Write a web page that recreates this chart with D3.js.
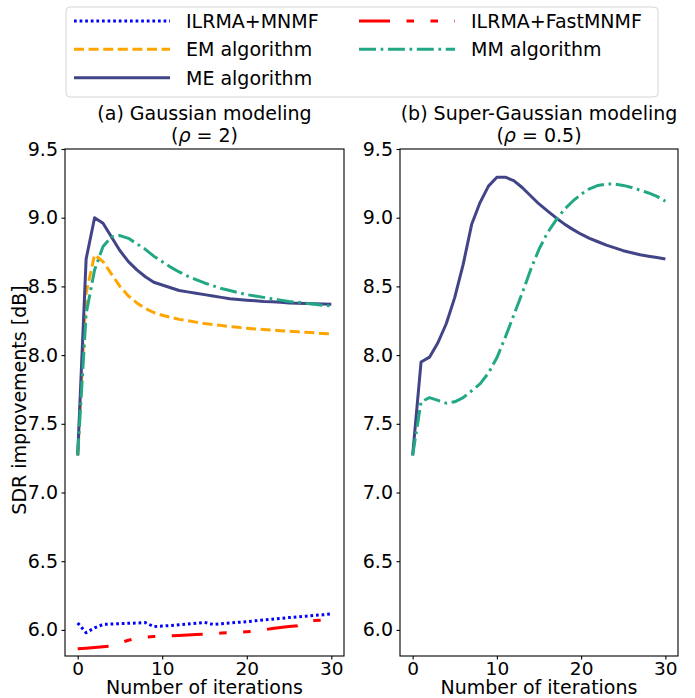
<!DOCTYPE html>
<html><head><meta charset="utf-8">
<script src="https://cdn.jsdelivr.net/npm/d3@7"></script>
<style>
body{margin:0;background:#fff}
text{font-family:"DejaVu Sans",sans-serif;fill:#000}
</style>
</head><body>
<svg id="c" width="695" height="698"></svg>
<script>
// ---------- data ----------
const iterations = [0,1,2,3,4,5,6,7,8,9,10,11,12,13,14,15,16,17,18,19,20,21,22,23,24,25,26,27,28,29,30];
const xTicks = [0,10,20,30];
const yTicks = [6.0,6.5,7.0,7.5,8.0,8.5,9.0,9.5];
const seriesNames = ["ILRMA+MNMF","EM algorithm","ME algorithm","ILRMA+FastMNMF","MM algorithm"];
const panelTitles = ["(a) Gaussian modeling","(b) Super-Gaussian modeling"];
const panelRho = ["2","0.5"];
const xLabel = "Number of iterations";
const yLabel = "SDR improvements [dB]";

// (a) Gaussian modeling
const gaussMNMF = [6.05,5.98,6.015,6.04,6.043,6.045,6.048,6.05,6.053,6.024,6.028,6.032,6.037,6.042,6.048,6.055,6.04,6.045,6.05,6.055,6.06,6.066,6.072,6.078,6.084,6.09,6.095,6.10,6.105,6.11,6.116];
const gaussFast = [5.862,5.867,5.872,5.878,5.883,5.905,5.925,5.94,5.948,5.952,5.955,5.957,5.96,5.963,5.966,5.97,5.973,5.977,5.98,5.983,5.986,5.99,6.00,6.01,6.018,6.024,6.03,6.06,6.068,6.071,6.074];
const gaussEM = [7.27,8.45,8.73,8.68,8.59,8.50,8.43,8.38,8.34,8.31,8.29,8.275,8.26,8.25,8.24,8.23,8.222,8.215,8.208,8.202,8.196,8.19,8.186,8.182,8.178,8.174,8.17,8.166,8.162,8.158,8.155];
const gaussME = [7.27,8.70,9.00,8.96,8.86,8.76,8.68,8.62,8.57,8.53,8.51,8.49,8.47,8.46,8.45,8.44,8.43,8.42,8.41,8.405,8.40,8.395,8.39,8.388,8.385,8.38,8.378,8.375,8.373,8.371,8.37];
const gaussMM = [7.27,8.30,8.62,8.79,8.86,8.87,8.85,8.81,8.77,8.72,8.68,8.64,8.605,8.575,8.55,8.525,8.505,8.485,8.47,8.455,8.44,8.43,8.42,8.41,8.40,8.39,8.385,8.378,8.37,8.363,8.357];

// (b) Super-Gaussian modeling
const superME = [7.27,7.95,7.985,8.09,8.23,8.42,8.66,8.95,9.11,9.23,9.295,9.295,9.27,9.22,9.16,9.10,9.05,9.00,8.955,8.915,8.88,8.85,8.825,8.80,8.78,8.76,8.745,8.73,8.72,8.71,8.70];
const superMM = [7.27,7.66,7.69,7.67,7.65,7.66,7.69,7.74,7.79,7.87,7.98,8.13,8.29,8.45,8.62,8.77,8.89,8.98,9.06,9.12,9.17,9.21,9.235,9.245,9.245,9.235,9.22,9.20,9.18,9.155,9.12];

// ---------- styles ----------
const styles = {
  "ILRMA+MNMF":     {color:"#0000ff", dash:"2.7,2.9", w:3},
  "EM algorithm":   {color:"#ffa500", dash:"10,4.6", w:3},
  "ME algorithm":   {color:"#414487", dash:null, w:3},
  "ILRMA+FastMNMF": {color:"#ff0000", dash:"31,16.5,7.5,16.5,7.5,16.5", w:3},
  "MM algorithm":   {color:"#22a884", dash:"17,4.6,2.7,4.6", w:3}
};

const panels = [
  {left:65, right:344, title:panelTitles[0], rho:panelRho[0],
   series:[["ILRMA+MNMF",gaussMNMF],["EM algorithm",gaussEM],["ME algorithm",gaussME],["ILRMA+FastMNMF",gaussFast],["MM algorithm",gaussMM]]},
  {left:400, right:678, title:panelTitles[1], rho:panelRho[1],
   series:[["ME algorithm",superME],["MM algorithm",superMM]]}
];

const axTop = 149, axBottom = 656;
const FS = 19;
const svg = d3.select("#c");

panels.forEach((p,pi) => {
  const x = d3.scaleLinear().domain([-1.5,31.5]).range([p.left,p.right]);
  const y = d3.scaleLinear().domain([5.81,9.5]).range([axBottom,axTop]);
  const g = svg.append("g");

  const line = d3.line().x((d,i)=>x(iterations[i])).y(d=>y(d));
  p.series.forEach(([name,vals]) => {
    const s = styles[name];
    g.append("path").datum(vals)
      .attr("d", line)
      .attr("fill","none")
      .attr("stroke", s.color)
      .attr("stroke-width", s.w)
      .attr("stroke-linejoin","round")
      .attr("stroke-dasharray", s.dash);
  });

  const xa = g.append("g").attr("transform",`translate(0,${axBottom})`)
    .call(d3.axisBottom(x).tickValues(xTicks).tickSize(3.5).tickPadding(2).tickFormat(d3.format("d")));
  const ya = g.append("g").attr("transform",`translate(${p.left},0)`)
    .call(d3.axisLeft(y).tickValues(yTicks).tickSize(3.5).tickPadding(3.5).tickFormat(d3.format(".1f")));
  [xa,ya].forEach(a => {
    a.select(".domain").remove();
    a.selectAll(".tick line").attr("stroke","#000").attr("stroke-width",1.1);
    a.selectAll(".tick text").attr("font-size",FS).attr("font-family","DejaVu Sans").attr("fill","#000");
  });
  xa.selectAll(".tick text").attr("font-size",18.5);

  g.append("rect").attr("x",p.left).attr("y",axTop)
    .attr("width",p.right-p.left).attr("height",axBottom-axTop)
    .attr("fill","none").attr("stroke","#000").attr("stroke-width",1.1);

  const cx = (p.left+p.right)/2;
  g.append("text").attr("x",cx).attr("y",120).attr("text-anchor","middle")
    .attr("font-size",FS).text(p.title);
  const t2 = g.append("text").attr("x",cx).attr("y",142).attr("text-anchor","middle").attr("font-size",FS);
  t2.append("tspan").text("(");
  t2.append("tspan").attr("font-style","italic").text("ρ");
  t2.append("tspan").text(" = " + p.rho + ")");

  g.append("text").attr("x",cx).attr("y",693.5).attr("text-anchor","middle")
    .attr("font-size",FS).text(xLabel);
});

svg.append("text").attr("transform","translate(25.5,400) rotate(-90)")
  .attr("text-anchor","middle").attr("font-size",FS).text(yLabel);

const lg = svg.append("g");
lg.append("rect").attr("x",66).attr("y",7).attr("width",592).attr("height",90)
  .attr("rx",4).attr("fill","#fff").attr("fill-opacity",0.8)
  .attr("stroke","#d6d6d6").attr("stroke-width",1);
const rowY = [21,49.3,77.7];
const colX = [74,359];
seriesNames.forEach((name,i) => {
  const col = i < 3 ? 0 : 1;
  const row = i < 3 ? i : i-3;
  const s = styles[name];
  const yy = rowY[row];
  lg.append("line").attr("x1",colX[col]).attr("x2",colX[col]+96)
    .attr("y1",yy).attr("y2",yy)
    .attr("stroke",s.color).attr("stroke-width",s.w)
    .attr("stroke-dasharray",s.dash);
  lg.append("text").attr("x",colX[col]+112).attr("y",yy+7)
    .attr("font-size",FS).text(name);
});
</script>
</body></html>
